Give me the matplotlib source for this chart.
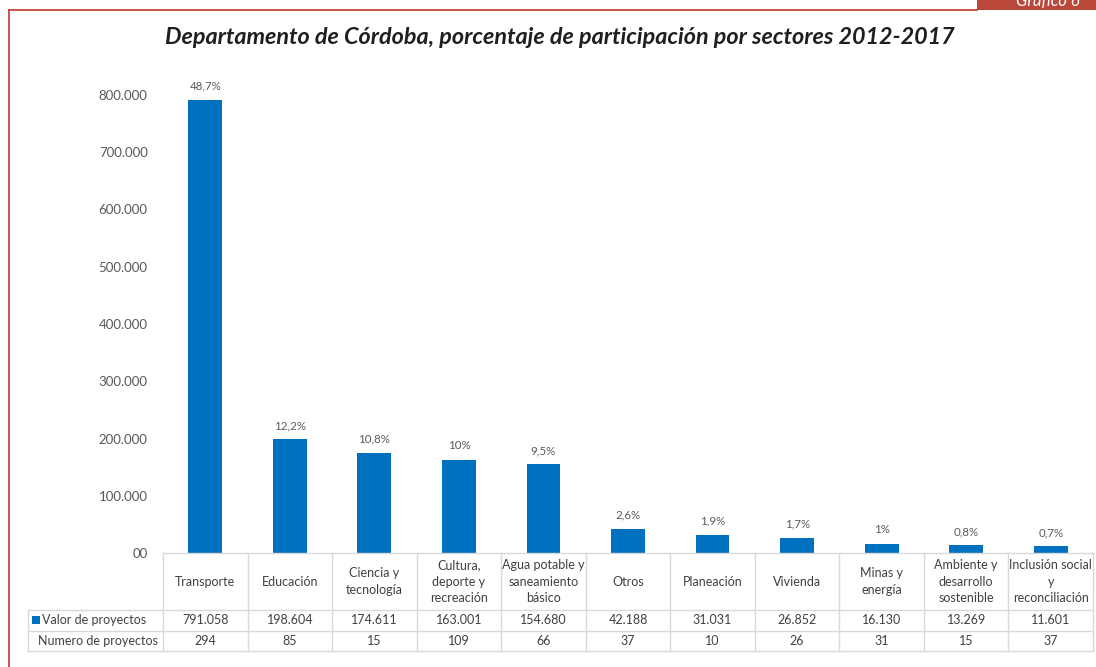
import matplotlib
matplotlib.use("Agg")
import matplotlib.pyplot as plt
from matplotlib.transforms import blended_transform_factory
from matplotlib.patches import Rectangle
from matplotlib.lines import Line2D

categories = ["Transporte", "Educación", "Ciencia y\ntecnología", "Cultura,\ndeporte y\nrecreación",
              "Agua potable y\nsaneamiento\nbásico", "Otros", "Planeación", "Vivienda",
              "Minas y\nenergía", "Ambiente y\ndesarrollo\nsostenible", "Inclusión social\ny\nreconciliación"]
valor = [791058, 198604, 174611, 163001, 154680, 42188, 31031, 26852, 16130, 13269, 11601]
valor_labels = ["791.058", "198.604", "174.611", "163.001", "154.680", "42.188", "31.031",
                "26.852", "16.130", "13.269", "11.601"]
numero = [294, 85, 15, 109, 66, 37, 10, 26, 31, 15, 37]
pct_labels = ["48,7%", "12,2%", "10,8%", "10%", "9,5%", "2,6%", "1,9%", "1,7%", "1%", "0,8%", "0,7%"]
yticks = [0, 100000, 200000, 300000, 400000, 500000, 600000, 700000, 800000]
ytick_labels = ["00", "100.000", "200.000", "300.000", "400.000", "500.000", "600.000", "700.000", "800.000"]
title = "Departamento de Córdoba, porcentaje de participación por sectores 2012-2017"

W, H = 1096, 667
plt.rcParams['font.family'] = ['Lato', 'DejaVu Sans']
fig = plt.figure(figsize=(W / 100, H / 100), dpi=100)

def fx(x):
    return x / W

def fy(y):
    return 1 - y / H

BLUE = "#0070C0"
GRID = "#D9D9D9"
TXT = "#404040"
RED = "#C0392B"

# Axes
ax_left, ax_right, ax_top, ax_bot = 163, 1093, 95, 553
ax = fig.add_axes([fx(ax_left), fy(ax_bot), fx(ax_right - ax_left), (ax_bot - ax_top) / H])
x = list(range(len(categories)))
ax.bar(x, valor, width=0.4, color=BLUE, zorder=3)
ax.set_xlim(-0.5, len(categories) - 0.5)
ax.set_ylim(0, 800000)
ax.set_yticks(yticks)
ax.set_yticklabels(ytick_labels, color="#595959", fontsize=9.5)
ax.tick_params(axis='y', length=0, pad=11)
ax.set_xticks([])
for s in ax.spines.values():
    s.set_visible(False)
for xi, v, lab in zip(x, valor, pct_labels):
    ax.annotate(lab, (xi, v), xytext=(0, 6), textcoords="offset points",
                ha="center", va="bottom", fontsize=8.3, color="#595959")

# Title
fig.text(fx(560), fy(38), title, ha="center", va="center", fontsize=16.8,
         fontweight="bold", fontstyle="italic", color="#1F1F1F")

# Table
tr = blended_transform_factory(ax.transData, fig.transFigure)
y_top, y_r1, y_r2, y_bot = 553, 610, 631, 651
n = len(categories)
lw = 1.0
fig.add_artist(Line2D([-0.5, n - 0.5], [fy(y_top)] * 2, transform=tr, color=GRID, lw=lw))
for yy in (y_r1, y_r2, y_bot):
    fig.add_artist(Line2D([fx(28), fx(ax_right)], [fy(yy)] * 2, transform=fig.transFigure, color=GRID, lw=lw))
for i in range(n + 1):
    fig.add_artist(Line2D([i - 0.5, i - 0.5], [fy(y_top), fy(y_bot)], transform=tr, color=GRID, lw=lw))
fig.add_artist(Line2D([fx(28), fx(28)], [fy(y_r1), fy(y_bot)], transform=fig.transFigure, color=GRID, lw=lw))

for i, cat in enumerate(categories):
    fig.text(i, fy((y_top + y_r1) / 2), cat, transform=tr, ha="center", va="center",
             fontsize=9, color=TXT, linespacing=1.45)
    fig.text(i, fy((y_r1 + y_r2) / 2), valor_labels[i], transform=tr, ha="center", va="center",
             fontsize=9, color=TXT)
    fig.text(i, fy((y_r2 + y_bot) / 2), str(numero[i]), transform=tr, ha="center", va="center",
             fontsize=9, color=TXT)

fig.add_artist(Rectangle((fx(32), fy(624)), fx(8), 8 / H, transform=fig.transFigure,
                         color=BLUE, lw=0))
fig.text(fx(42), fy((y_r1 + y_r2) / 2), "Valor de proyectos", ha="left", va="center",
         fontsize=9, color=TXT)
fig.text(fx(158), fy((y_r2 + y_bot) / 2), "Numero de proyectos", ha="right", va="center",
         fontsize=9, color=TXT)

# Frame
fig.add_artist(Line2D([fx(9), fx(9)], [fy(10), 0], transform=fig.transFigure, color=RED, lw=1.2))
fig.add_artist(Line2D([fx(9), fx(977)], [fy(10), fy(10)], transform=fig.transFigure, color=RED, lw=1.2))
fig.add_artist(Rectangle((fx(977), fy(10)), fx(W - 977), 10 / H, transform=fig.transFigure,
                         color="#B9473A", lw=0))
fig.text(fx(1016), fy(6), "Gráfico 6", ha="left", va="baseline", fontsize=12,
         fontstyle="italic", color="white")

fig.savefig("out.png", dpi=100)
